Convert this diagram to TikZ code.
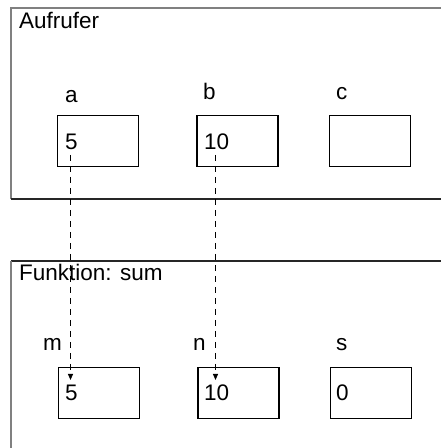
\documentclass[tikz,border=0pt]{standalone}
\usepackage{fontspec}
\setmainfont{Liberation Sans}
\usetikzlibrary{arrows.meta}
\begin{document}
\begin{tikzpicture}[x=1pt,y=1pt,
  varbox/.style={draw=black,line width=1.4pt,minimum width=81pt,minimum height=51pt,inner sep=0pt},
  txt/.style={font=\fontsize{22.5}{25}\selectfont,inner sep=0pt,anchor=base west},
  frameg/.style={draw=gray,line width=1.2pt},
  framek/.style={draw=black!85,line width=1.2pt},
  link/.style={draw=black,line width=0.8pt,dash pattern=on 6pt off 5pt,-{Triangle[length=6pt,width=5pt,sep=0pt]}}]
\useasboundingbox (0,0) rectangle (441,448);
% frames
\draw[frameg] (11,249) -- (11,440) -- (441,440);
\draw[framek] (11,249) -- (441,249);
\draw[framek] (11,187) -- (441,187);
\draw[frameg] (11,187) -- (11,0);
\node[txt] (t1) at (19,419) {Aufrufer};
\node[txt] (t2) at (19,167) {Funktion: sum};
% caller variables
\node[varbox] (a) at (98,307) {};
\node[varbox] (b) at (237.5,307) {};
\node[varbox] (c) at (370,307) {};
\node[txt] (la) at (65,345) {a};
\node[txt] (lb) at (203,348) {b};
\node[txt] (lc) at (336,348) {c};
\node[txt] (va) at (65,298) {5};
\node[txt] (vb) at (204,298) {10};
% function variables
\node[varbox] (m) at (99,55) {};
\node[varbox] (n) at (238.5,55) {};
\node[varbox] (s) at (371,55) {};
\node[txt] (lm) at (43,97) {m};
\node[txt] (ln) at (193,97) {n};
\node[txt] (ls) at (336,97) {s};
\node[txt] (vm) at (65,47) {5};
\node[txt] (vn) at (204,47) {10};
\node[txt] (vs) at (336,47) {0};
% links
\coordinate (pa) at (70.5,293);
\coordinate (pm) at (70.5,68);
\coordinate (pb) at (215.5,293);
\coordinate (pn) at (215.5,68);
\draw[link] (pa) -- (pm);
\draw[link] (pb) -- (pn);
\end{tikzpicture}
\end{document}
